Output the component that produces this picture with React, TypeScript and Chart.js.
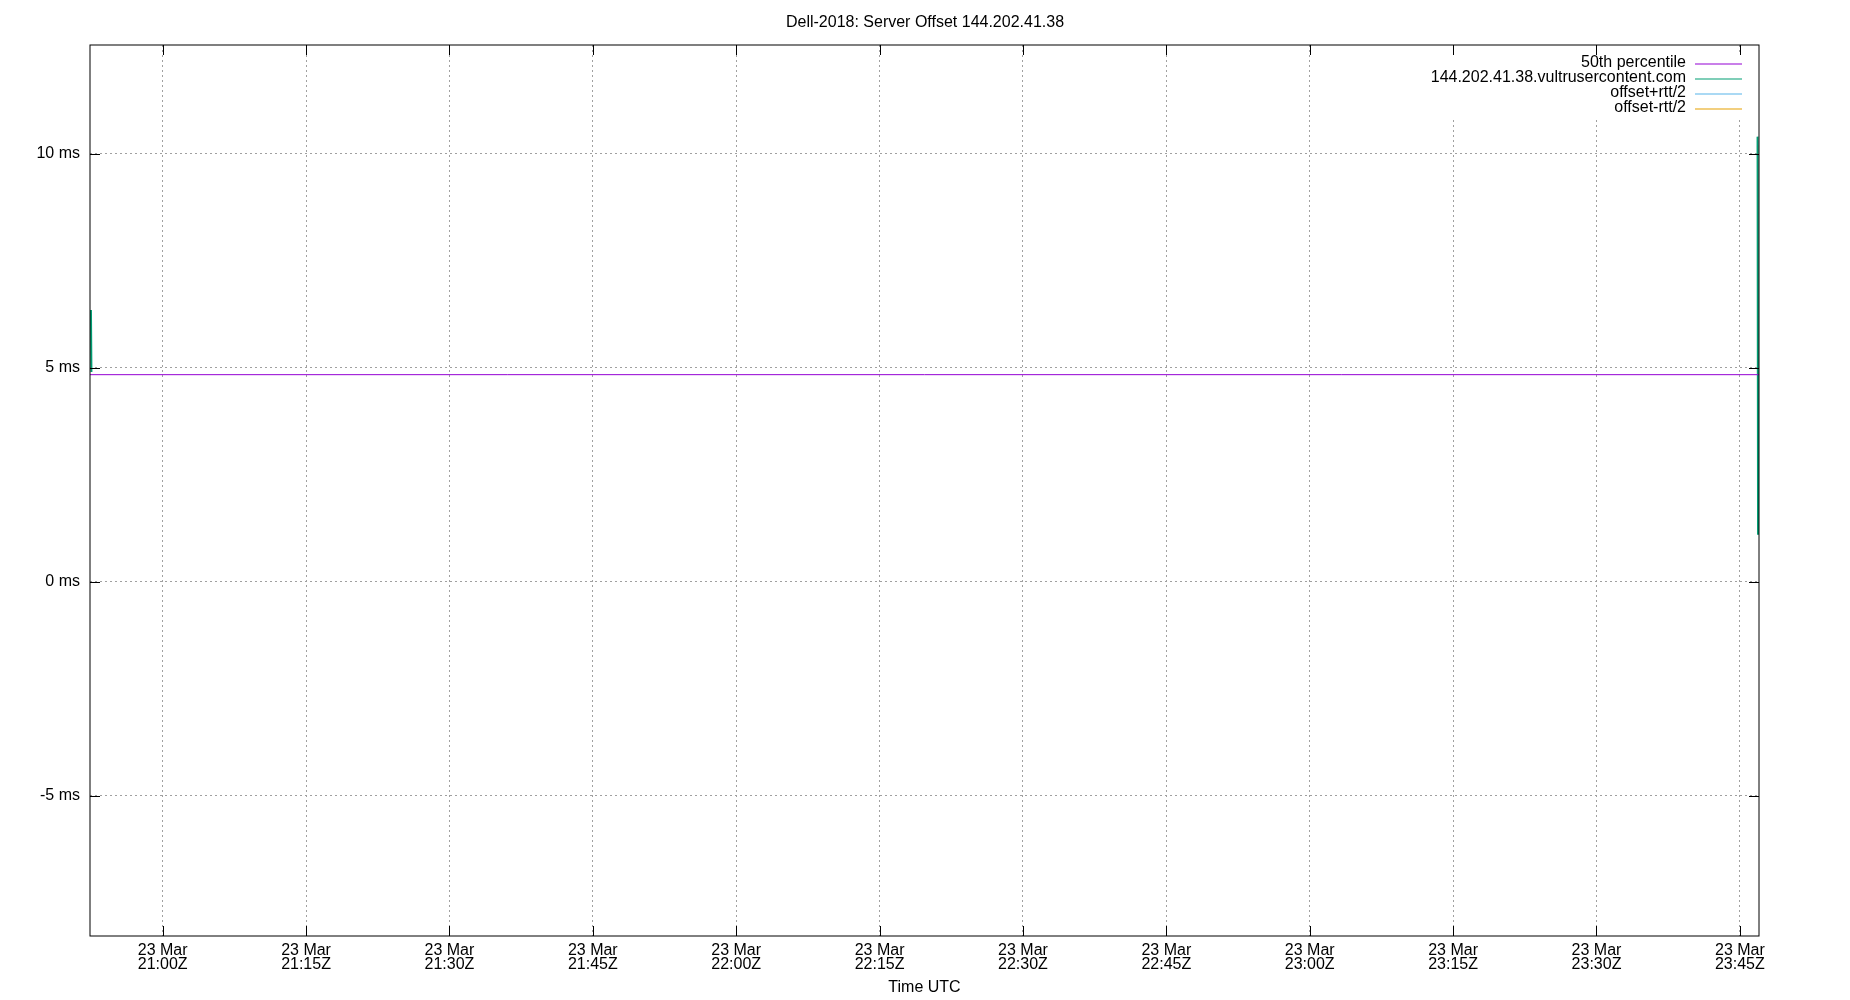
import { useEffect, useRef } from "react"
import { Chart, registerables } from "chart.js"
import type { Plugin } from "chart.js"

Chart.register(...registerables)

const chartTitle = "Dell-2018: Server Offset 144.202.41.38"
const xAxisTitle = "Time UTC"
const dateLabel = "23 Mar"

// x values are minutes since 00:00 UTC
const xMin = 1252.4
const xMax = 1427.0
const xTickValues = [1260, 1275, 1290, 1305, 1320, 1335, 1350, 1365, 1380, 1395, 1410, 1425]
const yMin = -8.27
const yMax = 12.54
const yTickValues = [-5, 0, 5, 10]

const seriesNames = ["50th percentile", "144.202.41.38.vultrusercontent.com", "offset+rtt/2", "offset-rtt/2"]
const seriesColors = ["#9400d3", "#009e73", "#56b4e9", "#e69f00"]

const medianTimes = [1252.4, 1427.0]
const medianValues = [4.84, 4.84]

const offsetTimes = [1252.5, 1252.55, 1340, 1426.85, 1426.9]
const offsetValues = [6.35, 4.9, null, 10.4, 1.1]
const upperValues = [6.3, 5.0, null, 10.3, 1.3]
const lowerValues = [6.2, 4.95, null, 10.2, 1.2]

const FONT = "'Liberation Sans', Arial, sans-serif"

const pad2 = (n: number) => String(n).padStart(2, "0")
const timeLabel = (m: number) => `${pad2(Math.floor(m / 60))}:${pad2(Math.round(m % 60))}Z`

const toPoints = (xs: number[], ys: (number | null)[]) => xs.map((x, i) => ({ x, y: ys[i] }))

// gnuplot style: boxed legend inside top right, frame with inward ticks on all sides
const framePlugin: Plugin = {
  id: "gnuplotFrame",
  afterDraw(chart) {
    const { ctx, chartArea } = chart
    const { left, right, top, bottom } = chartArea
    const xs = chart.scales.x
    const ys = chart.scales.y
    ctx.save()

    // legend
    const lineX0 = 1695
    const lineX1 = 1742
    const textX = 1686
    const rowY0 = 64
    const rowH = 15
    ctx.fillStyle = "#fff"
    ctx.fillRect(1424, 55, lineX1 + 8 - 1424, rowH * seriesNames.length + 3)
    ctx.font = `16px ${FONT}`
    ctx.textAlign = "right"
    ctx.textBaseline = "middle"
    seriesNames.forEach((name, i) => {
      const y = rowY0 + i * rowH
      ctx.fillStyle = "#000"
      ctx.fillText(name, textX, y - 1.5)
      ctx.strokeStyle = seriesColors[i]
      ctx.lineWidth = 1.2
      ctx.beginPath()
      ctx.moveTo(lineX0, y)
      ctx.lineTo(lineX1, y)
      ctx.stroke()
    })

    // frame
    ctx.strokeStyle = "#000"
    ctx.lineWidth = 1
    ctx.strokeRect(left, top, right - left, bottom - top)
    ctx.beginPath()
    xTickValues.forEach((v) => {
      const px = Math.round(xs.getPixelForValue(v)) + 0.5
      ctx.moveTo(px, bottom)
      ctx.lineTo(px, bottom - 10)
      ctx.moveTo(px, top)
      ctx.lineTo(px, top + 10)
    })
    yTickValues.forEach((v) => {
      const py = Math.round(ys.getPixelForValue(v)) + 0.5
      ctx.moveTo(left, py)
      ctx.lineTo(left + 10, py)
      ctx.moveTo(right, py)
      ctx.lineTo(right - 10, py)
    })
    ctx.stroke()
    ctx.restore()
  },
}

export default function App() {
  const chartRef = useRef<HTMLCanvasElement>(null)
  const chartInstance = useRef<Chart | null>(null)

  useEffect(() => {
    if (!chartRef.current) return
    if (chartInstance.current) chartInstance.current.destroy()
    const ctx = chartRef.current.getContext("2d")
    if (!ctx) return

    const lineSet = (i: number, data: { x: number; y: number | null }[], width: number, order: number) => ({
      label: seriesNames[i],
      data,
      borderColor: seriesColors[i],
      backgroundColor: seriesColors[i],
      borderWidth: width,
      pointRadius: 0,
      fill: false,
      spanGaps: false,
      tension: 0,
      order,
    })

    chartInstance.current = new Chart(ctx, {
      type: "line",
      data: {
        datasets: [
          lineSet(0, toPoints(medianTimes, medianValues), 1, 0),
          lineSet(1, toPoints(offsetTimes, offsetValues), 2, 1),
          lineSet(2, toPoints(offsetTimes, upperValues), 1.2, 2),
          lineSet(3, toPoints(offsetTimes, lowerValues), 1.2, 3),
        ],
      },
      options: {
        responsive: false,
        animation: false,
        devicePixelRatio: 1,
        layout: { padding: 0 },
        plugins: {
          legend: { display: false },
          tooltip: { enabled: false },
          title: {
            display: true,
            text: chartTitle,
            color: "#000",
            font: { family: FONT, size: 16, weight: "normal", lineHeight: 1.2 },
            padding: { top: 13, bottom: 12.8 },
          },
        },
        scales: {
          x: {
            type: "linear",
            min: xMin,
            max: xMax,
            afterBuildTicks: (scale) => {
              scale.ticks = xTickValues.map((value) => ({ value }))
            },
            afterFit: (scale) => {
              scale.height = 64
            },
            grid: { color: "#a0a0a0", lineWidth: 1, drawTicks: false, tickLength: 0 },
            border: { display: false, dash: [2, 3] },
            ticks: {
              color: "#000",
              padding: 7,
              maxRotation: 0,
              autoSkip: false,
              font: { family: FONT, size: 16, lineHeight: 0.9 },
              callback: (value) => [dateLabel, timeLabel(Number(value))],
            },
            title: {
              display: true,
              text: xAxisTitle,
              color: "#000",
              font: { family: FONT, size: 16, lineHeight: 1.2 },
              padding: { top: 0, bottom: 2.4 },
            },
          },
          y: {
            type: "linear",
            min: yMin,
            max: yMax,
            afterBuildTicks: (scale) => {
              scale.ticks = yTickValues.map((value) => ({ value }))
            },
            afterFit: (scale) => {
              scale.width = 90
            },
            grid: { color: "#a0a0a0", lineWidth: 1, drawTicks: false, tickLength: 0 },
            border: { display: false, dash: [2, 3] },
            ticks: {
              color: "#000",
              padding: 10,
              font: { family: FONT, size: 16 },
              callback: (value) => `${value} ms`,
            },
          },
          // empty right margin, keeps the title centred on the full width
          yRight: {
            type: "linear",
            position: "right",
            display: true,
            min: yMin,
            max: yMax,
            afterFit: (scale) => {
              scale.width = 91
            },
            grid: { drawOnChartArea: false, drawTicks: false },
            border: { display: false },
            ticks: { display: false },
          },
        },
      },
      plugins: [framePlugin],
    })

    return () => {
      if (chartInstance.current) {
        chartInstance.current.destroy()
        chartInstance.current = null
      }
    }
  }, [])

  return (
    <div style={{ position: "absolute", left: 0, top: 0, width: 1850, height: 1000, background: "#fff" }}>
      <canvas ref={chartRef} width={1850} height={1000} style={{ display: "block" }} />
    </div>
  )
}
